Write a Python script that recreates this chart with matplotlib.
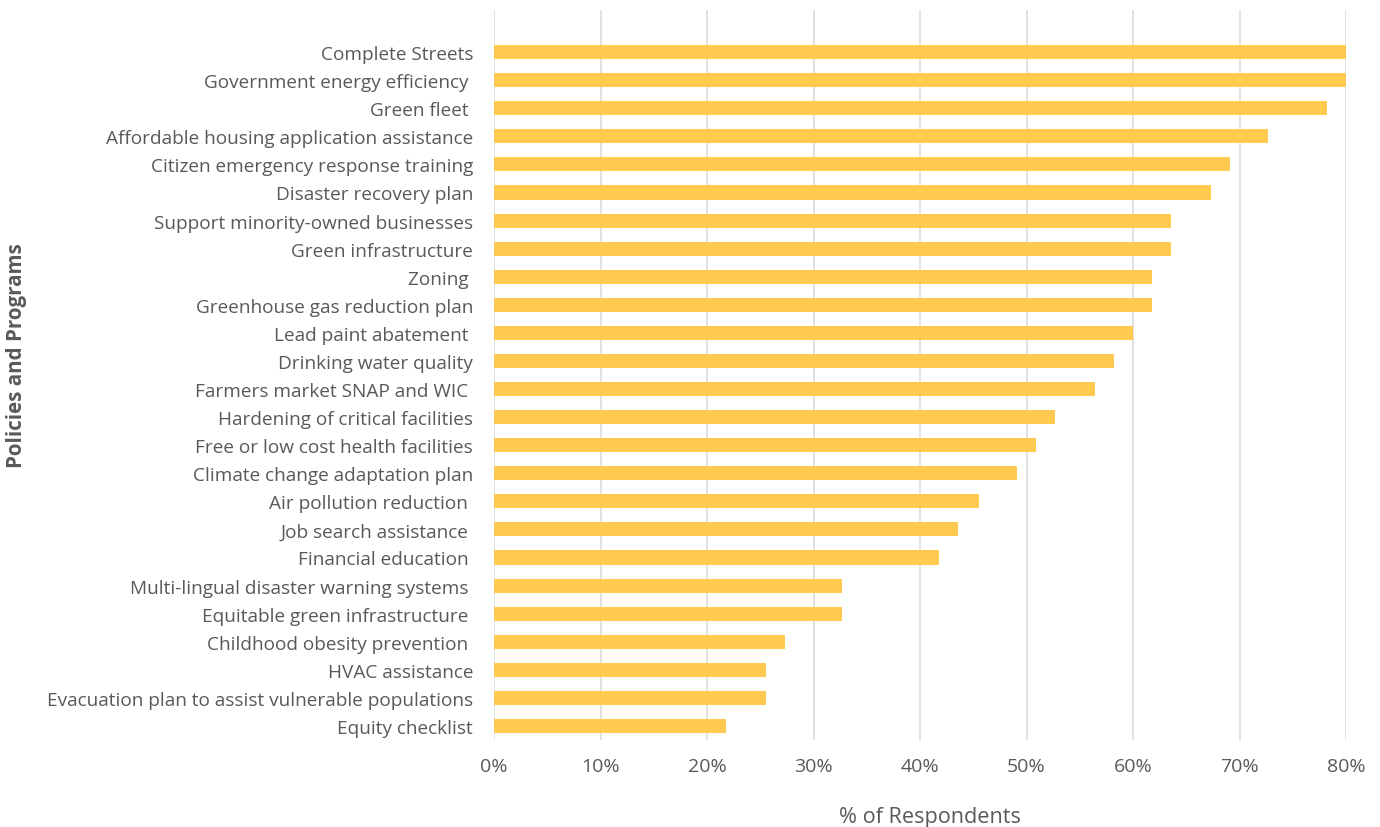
import matplotlib
matplotlib.use('Agg')
import matplotlib.pyplot as plt
from matplotlib.ticker import PercentFormatter

# policies, top to bottom as in the survey chart
policies = [
    'Complete Streets',
    'Government energy efficiency ',
    'Green fleet ',
    'Affordable housing application assistance',
    'Citizen emergency response training',
    'Disaster recovery plan',
    'Support minority-owned businesses',
    'Green infrastructure',
    'Zoning ',
    'Greenhouse gas reduction plan',
    'Lead paint abatement ',
    'Drinking water quality',
    'Farmers market SNAP and WIC ',
    'Hardening of critical facilities',
    'Free or low cost health facilities',
    'Climate change adaptation plan',
    'Air pollution reduction ',
    'Job search assistance ',
    'Financial education ',
    'Multi-lingual disaster warning systems ',
    'Equitable green infrastructure ',
    'Childhood obesity prevention ',
    'HVAC assistance',
    'Evacuation plan to assist vulnerable populations',
    'Equity checklist',
]
# share of respondents (%)
share = [80.0, 80.0, 78.2, 72.7, 69.1, 67.3, 63.6, 63.6, 61.8, 61.8, 60.0, 58.2,
         56.4, 52.7, 50.9, 49.1, 45.5, 43.6, 41.8, 32.7, 32.7, 27.3, 25.5, 25.5, 21.8]
xticks = [0, 10, 20, 30, 40, 50, 60, 70, 80]

TXT = '#595959'
plt.rcParams['font.family'] = ['Open Sans', 'DejaVu Sans']

fig = plt.figure(figsize=(13.8, 8.28), dpi=100)
ax = fig.add_axes([494/1380, 1 - 741/828, (1346 - 494)/1380, (741 - 11)/828])

n = len(policies)
ypos = list(range(n))[::-1]
ax.barh(ypos, share, height=0.5, color='#FFCA4F', zorder=2)

ax.set_xlim(0, 80)
ax.set_ylim(-0.5, n + 0.5)
ax.set_xticks(xticks)
ax.xaxis.set_major_formatter(PercentFormatter(decimals=0))
ax.set_yticks(ypos)
ax.set_yticklabels(policies)
ax.tick_params(axis='both', length=0, colors=TXT)
ax.tick_params(axis='y', pad=15, labelsize=13.7)
ax.tick_params(axis='x', pad=12, labelsize=14)
ax.grid(axis='x', color='#d9d9d9', linewidth=1.1, zorder=0)
for s in ax.spines.values():
    s.set_visible(False)

fig.text(930/1380, 1 - 818/828, '% of Respondents', ha='center', va='center',
         fontsize=15.6, color=TXT)
fig.text(17/1380, 1 - 356/828, 'Policies and Programs', ha='center', va='center',
         rotation=90, fontsize=14.8, color=TXT, fontweight='bold')

fig.savefig('out.png', dpi=100, facecolor='white')
